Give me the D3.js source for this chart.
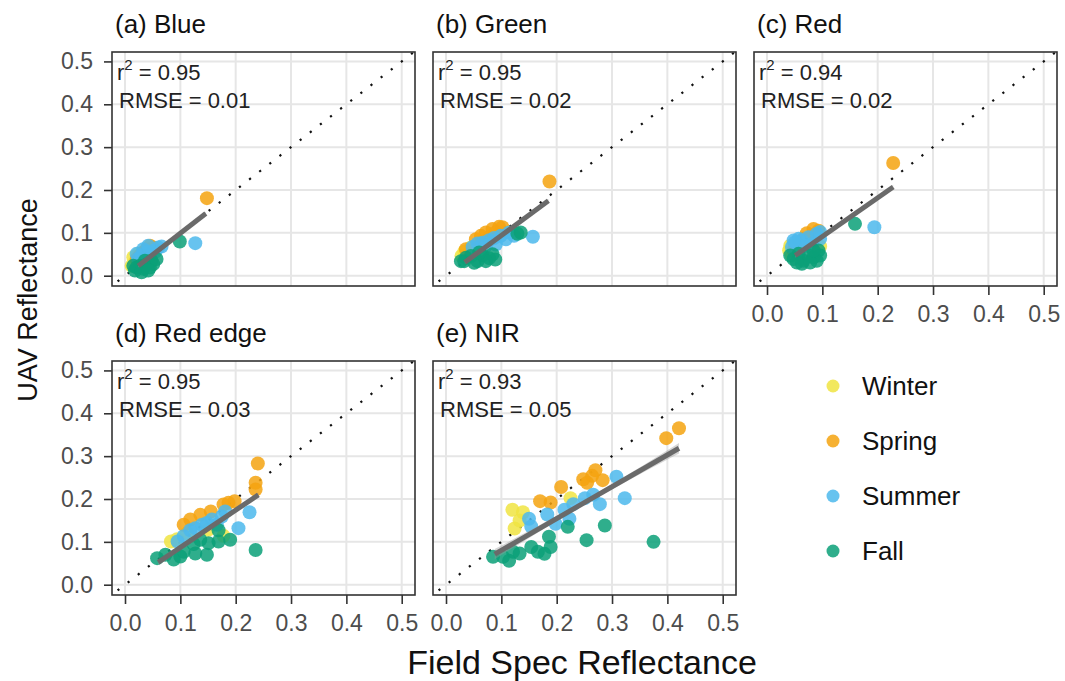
<!DOCTYPE html>
<html>
<head>
<meta charset="utf-8">
<script src="https://d3js.org/d3.v7.min.js"></script>
<style>
  body { margin: 0; background: #fff; }
  svg text { font-family: "Liberation Sans", Arial, sans-serif; }
</style>
</head>
<body>
<div id="chart"></div>
<script>
// seasons and colours
const seasons = ["Winter", "Spring", "Summer", "Fall"];
const seasonColors = ["#F0E442", "#F5A30F", "#4CB9EC", "#0BA078"];

// panel titles and fit statistics
const panelTitles = ["(a) Blue", "(b) Green", "(c) Red", "(d) Red edge", "(e) NIR"];
const r2Values = ["0.95", "0.95", "0.94", "0.95", "0.93"];
const rmseValues = ["0.01", "0.02", "0.02", "0.03", "0.05"];

// axis ticks
const tickValues = [0, 0.1, 0.2, 0.3, 0.4, 0.5];
const tickLabels = ["0.0", "0.1", "0.2", "0.3", "0.4", "0.5"];

// fitted lines: [x start, x end, slope, intercept]
const fitLines = [
  [0.024, 0.146, 1.00, -0.001],
  [0.034, 0.185, 0.95, -0.001],
  [0.051, 0.228, 0.904, 0.001],
  [0.060, 0.241, 0.87, 0.000],
  [0.088, 0.421, 0.742, 0.006]
];
// confidence band half width at line ends and in the middle
const bandEnd = [0.004, 0.004, 0.005, 0.006, 0.012];
const bandMid = [0.002, 0.002, 0.002, 0.003, 0.005];

// points: [field spec, UAV, season]
const bluePts = [
  [0.015,0.043,"Winter"],[0.018,0.031,"Winter"],[0.024,0.051,"Winter"],[0.030,0.035,"Winter"],[0.012,0.023,"Winter"],
  [0.148,0.181,"Spring"],[0.045,0.070,"Spring"],[0.039,0.062,"Spring"],[0.051,0.066,"Spring"],[0.033,0.055,"Spring"],
  [0.027,0.047,"Spring"],[0.042,0.051,"Spring"],[0.054,0.060,"Spring"],[0.021,0.039,"Spring"],[0.036,0.043,"Spring"],
  [0.127,0.076,"Summer"],[0.060,0.066,"Summer"],[0.051,0.058,"Summer"],[0.039,0.055,"Summer"],[0.030,0.047,"Summer"],
  [0.024,0.039,"Summer"],[0.066,0.068,"Summer"],[0.045,0.047,"Summer"],[0.033,0.062,"Summer"],[0.054,0.055,"Summer"],
  [0.021,0.051,"Summer"],[0.042,0.070,"Summer"],
  [0.099,0.080,"Fall"],[0.021,0.019,"Fall"],[0.033,0.016,"Fall"],[0.045,0.019,"Fall"],[0.051,0.027,"Fall"],
  [0.027,0.023,"Fall"],[0.039,0.027,"Fall"],[0.018,0.012,"Fall"],[0.048,0.035,"Fall"],[0.036,0.035,"Fall"],
  [0.057,0.039,"Fall"],[0.015,0.023,"Fall"],[0.030,0.008,"Fall"],[0.042,0.012,"Fall"]
];
const greenPts = [
  [0.033,0.056,"Winter"],[0.028,0.046,"Winter"],[0.045,0.066,"Winter"],[0.060,0.064,"Winter"],[0.039,0.050,"Winter"],
  [0.187,0.220,"Spring"],[0.096,0.114,"Spring"],[0.063,0.093,"Spring"],[0.084,0.109,"Spring"],[0.102,0.113,"Spring"],
  [0.072,0.101,"Spring"],[0.054,0.085,"Spring"],[0.090,0.101,"Spring"],[0.036,0.062,"Spring"],[0.078,0.089,"Spring"],
  [0.157,0.091,"Summer"],[0.057,0.075,"Summer"],[0.078,0.083,"Summer"],[0.099,0.093,"Summer"],[0.114,0.101,"Summer"],
  [0.066,0.077,"Summer"],[0.087,0.088,"Summer"],[0.123,0.093,"Summer"],[0.048,0.067,"Summer"],[0.072,0.070,"Summer"],
  [0.108,0.085,"Summer"],[0.090,0.073,"Summer"],
  [0.129,0.098,"Fall"],[0.033,0.034,"Fall"],[0.057,0.034,"Fall"],[0.078,0.041,"Fall"],[0.089,0.038,"Fall"],
  [0.045,0.046,"Fall"],[0.066,0.048,"Fall"],[0.036,0.042,"Fall"],[0.084,0.050,"Fall"],[0.051,0.030,"Fall"],
  [0.072,0.034,"Fall"],[0.060,0.054,"Fall"],[0.135,0.101,"Fall"],[0.027,0.034,"Fall"]
];
const redPts = [
  [0.040,0.059,"Winter"],[0.045,0.047,"Winter"],[0.054,0.063,"Winter"],[0.096,0.068,"Winter"],[0.042,0.070,"Winter"],
  [0.228,0.263,"Spring"],[0.084,0.109,"Spring"],[0.072,0.099,"Spring"],[0.093,0.105,"Spring"],[0.078,0.090,"Spring"],
  [0.066,0.086,"Spring"],[0.090,0.094,"Spring"],[0.057,0.074,"Spring"],[0.081,0.082,"Spring"],[0.048,0.059,"Spring"],
  [0.194,0.113,"Summer"],[0.051,0.078,"Summer"],[0.063,0.082,"Summer"],[0.075,0.090,"Summer"],[0.090,0.098,"Summer"],
  [0.096,0.086,"Summer"],[0.045,0.067,"Summer"],[0.057,0.086,"Summer"],[0.069,0.070,"Summer"],[0.081,0.074,"Summer"],
  [0.096,0.102,"Summer"],[0.048,0.082,"Summer"],
  [0.159,0.121,"Fall"],[0.048,0.039,"Fall"],[0.066,0.035,"Fall"],[0.084,0.043,"Fall"],[0.093,0.059,"Fall"],
  [0.057,0.051,"Fall"],[0.075,0.047,"Fall"],[0.090,0.035,"Fall"],[0.042,0.047,"Fall"],[0.096,0.047,"Fall"],
  [0.063,0.028,"Fall"],[0.078,0.031,"Fall"],[0.054,0.031,"Fall"],[0.084,0.059,"Fall"]
];
const redEdgePts = [
  [0.083,0.101,"Winter"],[0.178,0.114,"Winter"],[0.094,0.106,"Winter"],[0.112,0.120,"Winter"],[0.150,0.128,"Winter"],
  [0.240,0.283,"Spring"],[0.236,0.238,"Spring"],[0.236,0.222,"Spring"],[0.198,0.195,"Spring"],[0.178,0.187,"Spring"],
  [0.155,0.171,"Spring"],[0.136,0.163,"Spring"],[0.118,0.152,"Spring"],[0.187,0.191,"Spring"],[0.106,0.140,"Spring"],
  [0.225,0.169,"Summer"],[0.205,0.132,"Summer"],[0.181,0.171,"Summer"],[0.157,0.152,"Summer"],[0.139,0.140,"Summer"],
  [0.118,0.127,"Summer"],[0.106,0.113,"Summer"],[0.095,0.101,"Summer"],[0.166,0.140,"Summer"],[0.175,0.159,"Summer"],
  [0.127,0.132,"Summer"],[0.148,0.144,"Summer"],
  [0.058,0.062,"Fall"],[0.088,0.059,"Fall"],[0.106,0.077,"Fall"],[0.127,0.073,"Fall"],[0.124,0.095,"Fall"],
  [0.151,0.097,"Fall"],[0.169,0.127,"Fall"],[0.169,0.101,"Fall"],[0.190,0.105,"Fall"],[0.236,0.081,"Fall"],
  [0.148,0.070,"Fall"],[0.073,0.070,"Fall"],[0.100,0.066,"Fall"],[0.136,0.105,"Fall"]
];
const nirPts = [
  [0.120,0.175,"Winter"],[0.139,0.169,"Winter"],[0.124,0.131,"Winter"],[0.225,0.202,"Winter"],[0.133,0.150,"Winter"],
  [0.421,0.365,"Spring"],[0.398,0.342,"Spring"],[0.270,0.267,"Spring"],[0.283,0.244,"Spring"],[0.255,0.238,"Spring"],
  [0.208,0.228,"Spring"],[0.170,0.195,"Spring"],[0.189,0.192,"Spring"],[0.264,0.254,"Spring"],[0.248,0.246,"Spring"],
  [0.308,0.252,"Summer"],[0.323,0.202,"Summer"],[0.278,0.188,"Summer"],[0.251,0.202,"Summer"],[0.266,0.210,"Summer"],
  [0.230,0.188,"Summer"],[0.214,0.175,"Summer"],[0.223,0.154,"Summer"],[0.183,0.164,"Summer"],[0.198,0.142,"Summer"],
  [0.150,0.154,"Summer"],[0.154,0.136,"Summer"],
  [0.085,0.065,"Fall"],[0.114,0.056,"Fall"],[0.133,0.073,"Fall"],[0.154,0.088,"Fall"],[0.178,0.072,"Fall"],
  [0.186,0.112,"Fall"],[0.189,0.088,"Fall"],[0.220,0.135,"Fall"],[0.287,0.138,"Fall"],[0.254,0.104,"Fall"],
  [0.375,0.100,"Fall"],[0.121,0.077,"Fall"],[0.166,0.077,"Fall"],[0.103,0.065,"Fall"]
];
const panelPoints = [bluePts, greenPts, redPts, redEdgePts, nirPts];

// layout
var W = 1065, H = 681;
var pw = 303, ph = 234;
var xDomain = [-0.0235, 0.524], yDomain = [-0.024, 0.522];

var svg = d3.select("#chart").append("svg")
    .attr("width", W)
    .attr("height", H);

var x = d3.scaleLinear().domain(xDomain).range([0, pw]);
var y = d3.scaleLinear().domain(yDomain).range([ph, 0]);
var color = d3.scaleOrdinal().domain(seasons).range(seasonColors);

panelTitles.forEach(function(title, i) {
    var col = i % 3, row = Math.floor(i / 3);
    var left = 112 + col * 321, top = 52 + row * 309;
    var g = svg.append("g").attr("transform", "translate(" + left + "," + top + ")");

    g.append("clipPath").attr("id", "clip" + i)
      .append("rect").attr("width", pw).attr("height", ph);

    // grid
    g.selectAll(".vgrid").data(tickValues).enter().append("line")
        .attr("x1", d => x(d)).attr("x2", d => x(d))
        .attr("y1", 0).attr("y2", ph)
        .attr("stroke", "#e6e6e6").attr("stroke-width", 2);
    g.selectAll(".hgrid").data(tickValues).enter().append("line")
        .attr("y1", d => y(d)).attr("y2", d => y(d))
        .attr("x1", 0).attr("x2", pw)
        .attr("stroke", "#e6e6e6").attr("stroke-width", 2);

    var inner = g.append("g").attr("clip-path", "url(#clip" + i + ")");

    // 1:1 line
    inner.append("line")
        .attr("x1", x(-0.05)).attr("y1", y(-0.05))
        .attr("x2", x(0.6)).attr("y2", y(0.6))
        .attr("stroke", "#111").attr("stroke-width", 2.2)
        .attr("stroke-dasharray", "2.2,10.6");

    // points
    var pts = panelPoints[i].slice().sort((a, b) => seasons.indexOf(a[2]) - seasons.indexOf(b[2]));
    inner.selectAll("circle").data(pts).enter().append("circle")
        .attr("cx", d => x(d[0]))
        .attr("cy", d => y(d[1]))
        .attr("r", 7)
        .attr("fill", d => color(d[2]))
        .attr("fill-opacity", 0.85);

    // fitted line with band
    var f = fitLines[i];
    var xs = d3.range(0, 21).map(k => f[0] + (f[1] - f[0]) * k / 20);
    var xm = (f[0] + f[1]) / 2;
    var hw = function(v) {
        var t = (v - xm) / (f[1] - xm);
        return Math.sqrt(bandMid[i] * bandMid[i] + (bandEnd[i] * bandEnd[i] - bandMid[i] * bandMid[i]) * t * t);
    };
    inner.append("path")
        .datum(xs)
        .attr("d", d3.area()
            .x(v => x(v))
            .y0(v => y(f[3] + f[2] * v - hw(v)))
            .y1(v => y(f[3] + f[2] * v + hw(v))))
        .attr("fill", "#999").attr("fill-opacity", 0.4);
    inner.append("line")
        .attr("x1", x(f[0])).attr("y1", y(f[3] + f[2] * f[0]))
        .attr("x2", x(f[1])).attr("y2", y(f[3] + f[2] * f[1]))
        .attr("stroke", "#6a6a6a").attr("stroke-width", 5);

    // annotation
    var r2 = g.append("text").attr("x", 5).attr("y", 28)
        .attr("font-size", 22).attr("fill", "#222");
    r2.append("tspan").text("r");
    r2.append("tspan").text("2").attr("font-size", 15).attr("dy", -10);
    r2.append("tspan").text(" = " + r2Values[i]).attr("dy", 10);
    g.append("text").attr("x", 7).attr("y", 56)
        .attr("font-size", 22).attr("fill", "#222")
        .text("RMSE = " + rmseValues[i]);

    // border
    g.append("rect").attr("width", pw).attr("height", ph)
        .attr("fill", "none").attr("stroke", "#333").attr("stroke-width", 1.6);

    // title
    g.append("text").attr("x", 3).attr("y", -19)
        .attr("font-size", 26).attr("fill", "#111")
        .text(title);

    // axes
    if (col === 0) {
        var ay = g.append("g")
            .call(d3.axisLeft(y).tickValues(tickValues).tickSize(8).tickPadding(11)
                .tickFormat((d, k) => tickLabels[k]));
        ay.select(".domain").remove();
        ay.selectAll("line").attr("stroke", "#333").attr("stroke-width", 1.6);
        ay.selectAll("text").attr("font-size", 23).attr("fill", "#4d4d4d")
            .attr("font-family", "Liberation Sans, Arial, sans-serif");
    }
    if (i >= 2) {
        var ax = g.append("g").attr("transform", "translate(0," + ph + ")")
            .call(d3.axisBottom(x).tickValues(tickValues).tickSize(9).tickPadding(11)
                .tickFormat((d, k) => tickLabels[k]));
        ax.select(".domain").remove();
        ax.selectAll("line").attr("stroke", "#333").attr("stroke-width", 1.6);
        ax.selectAll("text").attr("font-size", 23).attr("fill", "#4d4d4d")
            .attr("font-family", "Liberation Sans, Arial, sans-serif");
    }
});

// axis titles
svg.append("text")
    .attr("x", 582).attr("y", 674)
    .attr("text-anchor", "middle")
    .attr("font-size", 34).attr("fill", "#111")
    .text("Field Spec Reflectance");

svg.append("text")
    .attr("transform", "translate(37,300) rotate(-90)")
    .attr("text-anchor", "middle")
    .attr("font-size", 27).attr("fill", "#111")
    .text("UAV Reflectance");

// legend
var legend = svg.append("g");
legend.selectAll("circle").data(seasons).enter().append("circle")
    .attr("cx", 833)
    .attr("cy", (d, i) => 386 + i * 55)
    .attr("r", 6.5)
    .attr("fill", d => color(d))
    .attr("fill-opacity", 0.85);
legend.selectAll("text").data(seasons).enter().append("text")
    .attr("x", 862)
    .attr("y", (d, i) => 386 + i * 55)
    .attr("dy", "0.35em")
    .attr("font-size", 26).attr("fill", "#111")
    .text(d => d);
</script>
</body>
</html>
